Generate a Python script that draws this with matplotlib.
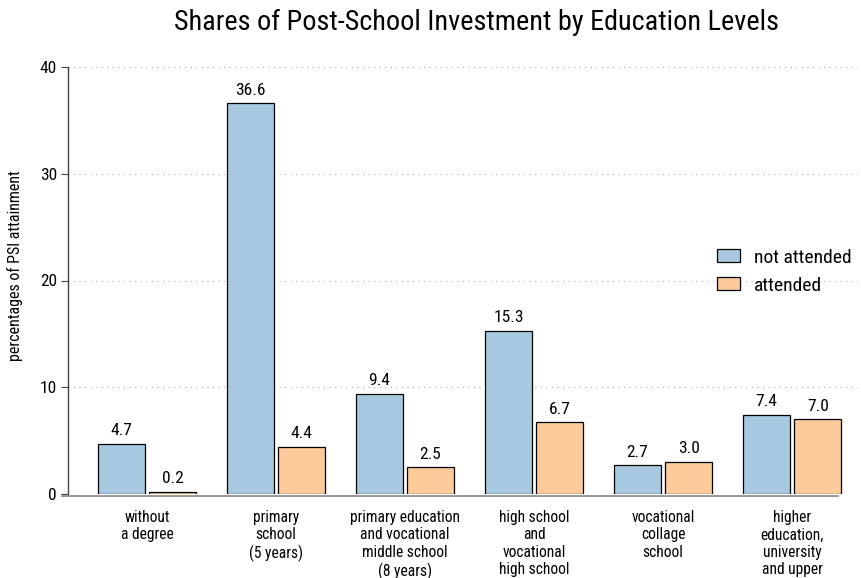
import numpy as np
import matplotlib.pyplot as plt

plt.rcParams['font.family'] = ['Roboto Condensed', 'Liberation Sans', 'DejaVu Sans']

categories = ['without\na degree', 'primary\nschool\n(5 years)',
              'primary education\nand vocational\nmiddle school\n(8 years)',
              'high school\nand\nvocational\nhigh school',
              'vocational\ncollage\nschool',
              'higher\neducation,\nuniversity\nand upper']
not_attended = [4.7, 36.6, 9.4, 15.3, 2.7, 7.4]
attended = [0.2, 4.4, 2.5, 6.7, 3.0, 7.0]
yticks = [0, 10, 20, 30, 40]

blue = '#a6c9e0'
orange = '#fdcb9a'

fig = plt.figure(figsize=(8.61, 5.78), dpi=100)
ax = fig.add_axes([68 / 861, 84 / 578, 790 / 861, 427 / 578])

x = np.arange(len(categories))
w = 0.364
off = 0.198
b1 = ax.bar(x - off, not_attended, w, color=blue, edgecolor='black', linewidth=0.9,
            label='not attended', zorder=3)
b2 = ax.bar(x + off, attended, w, color=orange, edgecolor='black', linewidth=0.9,
            label='attended', zorder=3)

for bars, vals in [(b1, not_attended), (b2, attended)]:
    for r, v in zip(bars, vals):
        ax.annotate(f'{v:.1f}', (r.get_x() + r.get_width() / 2, v),
                    xytext=(0, 4), textcoords='offset points',
                    ha='center', va='bottom', fontsize=12.5)

ax.set_xlim(-0.612, 5.51)
ax.set_ylim(0, 40)
ax.set_yticks(yticks)
ax.tick_params(axis='y', labelsize=12.5, length=5, width=0.8, color='#444444', pad=3)
ax.tick_params(axis='x', length=0, pad=10, labelsize=11.2)
ax.set_xticks(x)
ax.set_xticklabels(categories, fontsize=11.2, linespacing=0.70, va='top')

ax.grid(axis='y', linestyle=(0, (1, 4)), color='#aaaaaa', linewidth=0.8, zorder=0)
for s in ['top', 'right']:
    ax.spines[s].set_visible(False)
ax.spines['left'].set_color('#444444')
ax.spines['left'].set_linewidth(1.0)
ax.spines['bottom'].set_color('#888888')
ax.spines['bottom'].set_linewidth(1.2)
ax.spines['bottom'].set_bounds(-0.66, 5.357)
ax.spines['bottom'].set_position(('outward', 1.5))

ax.set_ylabel('percentages of PSI attainment', fontsize=11.5)
ax.yaxis.set_label_coords(-0.057, 0.534)

fig.text(477 / 861, 1 - 22 / 578, 'Shares of Post-School Investment by Education Levels',
         ha='center', va='center', fontsize=20.3)

ax.legend(loc='upper left', bbox_to_anchor=(709 / 861, 1 - 241 / 578),
          bbox_transform=fig.transFigure, frameon=False, fontsize=14,
          handlelength=1.2, handleheight=0.65, handletextpad=0.72, labelspacing=0.5,
          borderaxespad=0)

fig.savefig('out.png', dpi=100)
